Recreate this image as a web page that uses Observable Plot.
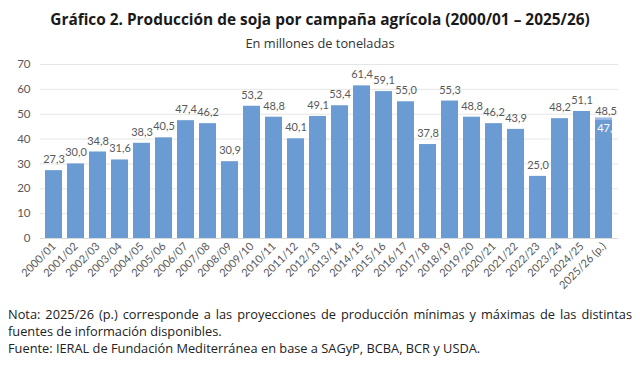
<!DOCTYPE html>
<html>
<head>
<meta charset="utf-8">
<script src="https://cdn.jsdelivr.net/npm/d3@7"></script>
<script src="https://cdn.jsdelivr.net/npm/@observablehq/plot@0.6"></script>
<style>
  html, body { margin: 0; padding: 0; background: #fff; }
  #wrap { position: relative; width: 640px; height: 366px; overflow: hidden; }
  #title { position: absolute; left: 0; top: 8px; width: 640px; text-align: center; white-space: nowrap;
    font-family: "Open Sans", sans-serif; font-weight: 700; font-size: 17px; line-height: 24px; color: #1a1a1a; }
  #subtitle { position: absolute; left: 0; top: 34px; width: 640px; text-align: center; white-space: nowrap;
    font-family: "Open Sans", sans-serif; font-size: 12px; line-height: 18px; color: #333; }
  #chart { position: absolute; left: 0; top: 52px; }
  #note { position: absolute; left: 8px; top: 306px; width: 624px;
    font-family: "Open Sans", sans-serif; font-size: 12px; line-height: 17px; color: #222; }
  #note div { white-space: nowrap; }
  #note .just { text-align: justify; text-align-last: justify; white-space: normal; }
  .fit { display: inline-block; }
</style>
</head>
<body>
<div id="wrap">
  <div id="title"><span class="fit" id="titleText">Gráfico 2. Producción de soja por campaña agrícola (2000/01 – 2025/26)</span></div>
  <div id="subtitle"><span class="fit" id="subText">En millones de toneladas</span></div>
  <div id="chart"></div>
  <div id="note">
    <div class="just">Nota: 2025/26 (p.) corresponde a las proyecciones de producción mínimas y máximas de las distintas</div>
    <div>fuentes de información disponibles.</div>
    <div><span class="fit" id="srcText">Fuente: IERAL de Fundación Mediterránea en base a SAGyP, BCBA, BCR y USDA.</span></div>
  </div>
</div>
<script>
const campaigns = ["2000/01","2001/02","2002/03","2003/04","2004/05","2005/06","2006/07","2007/08","2008/09","2009/10","2010/11","2011/12","2012/13","2013/14","2014/15","2015/16","2016/17","2017/18","2018/19","2019/20","2020/21","2021/22","2022/23","2023/24","2024/25","2025/26 (p.)"];
const production = [27.3,30.0,34.8,31.6,38.3,40.5,47.4,46.2,30.9,53.2,48.8,40.1,49.1,53.4,61.4,59.1,55.0,37.8,55.3,48.8,46.2,43.9,25.0,48.2,51.1,47.5];
const projectionMax = [{campaign: "2025/26 (p.)", value: 48.5}];
const yTicks = [0,10,20,30,40,50,60,70];

// fit text widths to reference measurements
function fit(id, target, start, min) {
  const el = document.getElementById(id);
  const host = el.parentElement;
  let s = start;
  host.style.fontSize = s + "px";
  while (el.getBoundingClientRect().width > target && s > min) {
    s -= 0.1;
    host.style.fontSize = s + "px";
  }
  return s;
}
fit("titleText", 543, 21, 10);
fit("subText", 150, 14, 8);
const noteSize = fit("srcText", 473, 14, 8);
document.getElementById("note").style.fontSize = noteSize + "px";

const data = campaigns.map((c, i) => ({campaign: c, value: production[i]}));
const fmt = v => v.toFixed(1).replace(".", ",");
const last = campaigns[campaigns.length - 1];
const aboveLabels = data.filter(d => d.campaign !== last);
const minLabel = data.filter(d => d.campaign === last);

const chart = Plot.plot({
  width: 640,
  height: 250,
  marginTop: 12,
  marginBottom: 64,
  marginLeft: 40,
  marginRight: 22,
  style: {fontFamily: "Lato, sans-serif", fontSize: "11.5px", color: "#595959", background: "#fff"},
  x: {domain: campaigns, padding: 0.22, label: null},
  y: {domain: [0, 70], label: null},
  marks: [
    Plot.gridY(yTicks, {stroke: "#e6e6e6", strokeOpacity: 1}),
    Plot.ruleY([0], {stroke: "#d9d9d9"}),
    Plot.axisY({ticks: yTicks, tickSize: 0, tickPadding: 10, label: null, fontSize: 11.5}),
    Plot.axisX({tickSize: 0, tickRotate: -45, tickPadding: 6, label: null, fontSize: 11}),
    Plot.barY(projectionMax, {x: "campaign", y: "value", fill: "#9dbbe3"}),
    Plot.barY(data, {x: "campaign", y: "value", fill: "#6a9bd2"}),
    Plot.text(aboveLabels, {x: "campaign", y: "value", text: d => fmt(d.value), dy: -11, fill: "#595959", fontSize: 11}),
    Plot.text(projectionMax, {x: "campaign", y: "value", text: d => fmt(d.value), dy: -6, dx: 2, fill: "#595959", fontSize: 11}),
    Plot.text(minLabel, {x: "campaign", y: "value", text: d => fmt(d.value), dy: 8, dx: 4, fill: "#ffffff", fontSize: 11})
  ]
});
document.getElementById("chart").appendChild(chart);
</script>
</body>
</html>
